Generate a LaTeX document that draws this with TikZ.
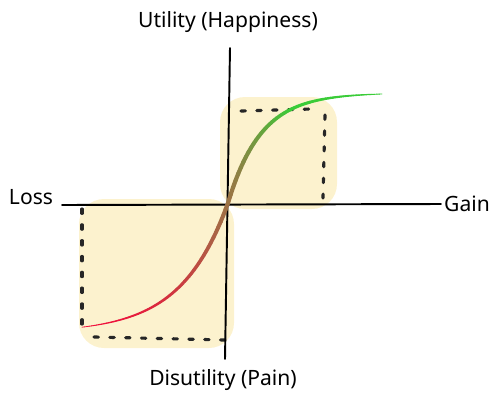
\documentclass[tikz,border=0pt]{standalone}
\usepackage{fontspec}
\setmainfont{Noto Sans}
\usepackage{xcolor}
\usepackage{tikz}
\definecolor{blobyellow}{HTML}{FCF2CE}
\definecolor{curvered}{HTML}{F0103C}
\definecolor{curvemid}{HTML}{9C7446}
\definecolor{curvegreen}{HTML}{3ACC38}

\begin{document}
\begin{tikzpicture}[x=0.02cm, y=-0.02cm,
  axislabel/.style ={font=\large, text=black, inner sep=1pt},
  axisline/.style  ={black, line width=1.1pt, line cap=round},
  blob/.style      ={fill=blobyellow, draw=none, rounded corners=0.5cm},
  guide/.style     ={black!85, line width=1.8pt, line cap=round,
                     dash pattern=on 2.5pt off 6.5pt},
  curveseg/.style  ={line cap=round}
]
  \useasboundingbox (0,0) rectangle (498,400);
  \fill[blob] (220,97) rectangle (337,209);
  \fill[blob] (79,199) rectangle (234,348);

  \node[axislabel] (utility) at (228,22)  {Utility (Happiness)};
  \node[axislabel] (pain)    at (223,380) {Disutility (Pain)};
  \node[axislabel] (loss)    at (31,197)  {Loss};
  \node[axislabel] (gain)    at (467,204) {Gain};

  \coordinate (xl) at (62,205);
  \coordinate (xr) at (441,204);
  \coordinate (yt) at (230,48);
  \coordinate (yb) at (225,359);
  \coordinate (o)  at (228,203);

  \draw[guide] (241,111) -- (311,109);
  \draw[guide] (325,115) -- (323,198);
  \draw[guide] (82,209)  -- (82,327);
  \draw[guide] (94,337)  -- (225,340);

  \draw[axisline] (xl) -- (xr);
  \draw[axisline] (yt) -- (yb);

  \foreach \i in {0,...,59}{
    \pgfmathsetmacro\ua{-146+146*\i/60}
    \pgfmathsetmacro\ub{-146+146*(\i+1)/60}
    \pgfmathtruncatemacro\pct{100*(\i/60)^2}
    \pgfmathsetmacro\wd{0.4+2.0*\i/60}
    \draw[curveseg, line width=\wd pt, draw=curvemid!\pct!curvered]
      ({228+\ua},{203+130*(1-exp(\ua/47))}) -- ({228+\ub},{203+130*(1-exp(\ub/47))});
  }
  \foreach \i in {0,...,59}{
    \pgfmathsetmacro\ua{154*\i/60}
    \pgfmathsetmacro\ub{154*(\i+1)/60}
    \pgfmathtruncatemacro\pct{min(100,100*\i/24)}
    \pgfmathsetmacro\wd{2.4-2.0*(\i/60)^1.5}
    \draw[curveseg, line width=\wd pt, draw=curvegreen!\pct!curvemid]
      ({228+\ua},{203-110*(1-exp(-\ua/33))}) -- ({228+\ub},{203-110*(1-exp(-\ub/33))});
  }
\end{tikzpicture}
\end{document}
